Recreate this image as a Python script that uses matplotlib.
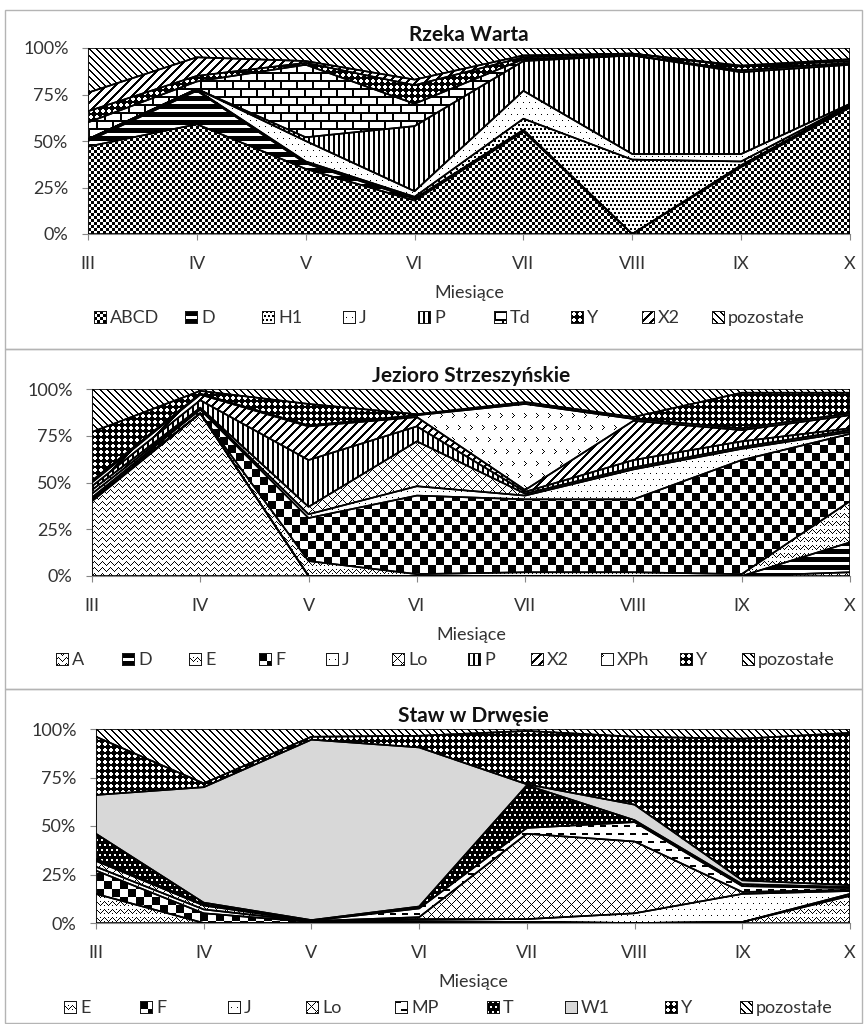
import numpy as np
import matplotlib.pyplot as plt
from matplotlib.patches import Rectangle

plt.rcParams['font.family'] = ['Lato', 'DejaVu Sans']

W, H = 867, 1024
TXT = '#333333'

months = ['III', 'IV', 'V', 'VI', 'VII', 'VIII', 'IX', 'X']

# Rzeka Warta (udział %, od dołu stosu)
warta_names = ['ABCD', 'D', 'H1', 'J', 'P', 'Td', 'Y', 'X2', 'pozostałe']
warta_ABCD = [47, 59, 35, 18, 55, 0, 36, 68]
warta_D = [3, 18, 3, 1, 1, 0, 1, 1]
warta_H1 = [0.5, 0.5, 1, 1, 6, 40, 2, 0.5]
warta_J = [0.5, 0.5, 11, 3, 15, 3, 4, 0.5]
warta_P = [0, 0, 2, 35, 16, 53, 44, 21]
warta_Td = [9, 4, 39, 12, 1, 0, 1, 1]
warta_Y = [6, 3, 1, 10, 1, 1, 2, 1]
warta_X2 = [10, 10, 1, 3, 1, 0, 0.5, 1]
warta_rest = [24, 5, 7, 17, 4, 3, 9.5, 6]

# Jezioro Strzeszyńskie
jez_names = ['A', 'D', 'E', 'F', 'J', 'Lo', 'P', 'X2', 'XPh', 'Y', 'pozostałe']
jez_A = [40, 87, 0, 0, 0, 0, 0, 2]
jez_D = [1, 0, 0, 0, 0, 0, 0, 16]
jez_E = [0, 0, 8, 1, 2, 2, 1, 22]
jez_F = [1, 2, 23, 42, 39, 39, 61, 36]
jez_J = [2, 0.5, 2, 5, 2, 16, 6, 1]
jez_Lo = [2, 0.5, 4, 24, 1, 1, 1, 1]
jez_P = [2, 4, 25, 8, 1, 4, 3, 1]
jez_X2 = [2, 3, 18, 5, 1, 21, 6, 7]
jez_XPh = [1, 0.5, 0.5, 1, 46, 1, 1, 1]
jez_Y = [26, 1.5, 11.5, 0.5, 1, 1, 19, 11]
jez_rest = [23, 1, 8, 13.5, 7, 15, 2, 2]

# Staw w Drwęsie
staw_names = ['E', 'F', 'J', 'Lo', 'MP', 'T', 'W1', 'Y', 'pozostałe']
staw_E = [15, 0, 0, 0.5, 0.5, 0, 0.5, 14]
staw_F = [12, 5, 0.5, 0.5, 0, 0, 0, 1]
staw_J = [2, 2, 0.3, 1, 1.5, 5, 14.5, 1.5]
staw_Lo = [3, 2, 0.2, 1, 44, 37, 1, 0.5]
staw_MP = [1, 0.5, 0.2, 4.5, 3, 10, 3, 1]
staw_T = [13, 1, 0.3, 1, 22, 1, 1, 0.5]
staw_W1 = [20, 59.5, 93, 82, 0.5, 8, 2, 1]
staw_Y = [30, 2, 1.5, 6, 27.5, 35, 73, 78.5]
staw_rest = [4, 28, 4, 3.5, 1, 4, 5, 2]


def mask(kind, h, w):
    yy, xx = np.indices((h, w))
    if kind == 'checker':
        return (xx // 3 + yy // 3) % 2 == 0
    if kind == 'bigchecker':
        return (xx // 8 + yy // 8) % 2 == 0
    if kind == 'hstripe':
        return yy % 8 < 5
    if kind == 'vstripe':
        return xx % 5 < 2
    if kind == 'updiag':
        return (xx + yy) % 9 < 3
    if kind == 'downdiag':
        return (xx - yy) % 7 < 2
    if kind == 'confetti':
        sh = (yy // 4 % 2) * 2
        return (yy % 4 < 2) & ((xx + sh) % 4 < 2)
    if kind == 'dots':
        sh = (yy // 6 % 2) * 3
        return (yy % 6 == 0) & ((xx + sh) % 6 == 0)
    if kind == 'bricks':
        sh = (yy // 8 % 2) * 8
        return (yy % 8 < 2) | ((xx + sh) % 16 < 2)
    if kind == 'trellis':
        a, b = xx % 6, yy % 6
        white = ((a >= 2) & (a <= 3) & (b >= 1) & (b <= 4)) | \
                ((b >= 2) & (b <= 3) & (a >= 1) & (a <= 4))
        return ~white
    if kind == 'wave':
        off = np.round(1.5 * np.sin(2 * np.pi * xx / 8)).astype(int)
        return (yy + off) % 6 == 0
    if kind == 'weave':
        z = np.abs(xx % 8 - 4)
        return ((yy + z) % 8 == 0) | ((yy - z) % 8 == 4) & (xx % 2 == 0)
    if kind == 'lattice':
        return ((xx + yy) % 10 == 0) | ((xx - yy) % 10 == 0)
    if kind == 'dashes':
        sh = (yy // 8 % 2) * 6
        return (yy % 8 < 2) & ((xx + sh) % 12 < 6)
    if kind == 'blackdots':
        sh = (yy // 5 % 2) * 2
        return ~((yy % 5 < 2) & ((xx + sh) % 5 < 2))
    if kind == 'chevron':
        r = yy % 12
        c = (xx + (yy // 12 % 2) * 6) % 12
        return (((r == 0) | (r == 4)) & (c == 0)) | (((r == 1) | (r == 3)) & (c == 1)) | \
               ((r == 2) & (c == 2))
    return np.zeros((h, w), bool)


def texture(kind, h, w):
    img = np.ones((h, w, 4))
    if kind == 'gray':
        img[..., :3] = 0.85
    else:
        img[mask(kind, h, w), :3] = 0.0
    return img


fig = plt.figure(figsize=(W / 100, H / 100), dpi=100)

# ramki trzech wykresów
for top, bot in [(10, 349), (349, 689), (689, 1023)]:
    fig.add_artist(Rectangle((5 / W, 1 - bot / H), 857 / W, (bot - top) / H,
                             transform=fig.transFigure, fill=False,
                             edgecolor='#b4b4b4', lw=1))


def panel(box, title, names, series, kinds, leg_x, leg_y):
    left, top, right, bottom = box
    ax = fig.add_axes([left / W, 1 - bottom / H, (right - left) / W, (bottom - top) / H])
    x = np.arange(len(months))
    data = np.array(series, float)
    data = data / data.sum(axis=0) * 100
    low = np.zeros(len(months))
    for vals, kind in zip(data, kinds):
        high = low + vals
        poly = ax.fill_between(x, low, high, facecolor='none', edgecolor='black',
                               lw=1.2, zorder=3)
        im = ax.imshow(texture(kind, bottom - top, right - left),
                       extent=(0, len(months) - 1, 0, 100), aspect='auto',
                       interpolation='nearest', zorder=2)
        im.set_clip_path(poly.get_paths()[0], ax.transData)
        low = high
    ax.set_xlim(0, len(months) - 1)
    ax.set_ylim(0, 100)
    ax.set_xticks(x, months)
    ax.set_yticks([0, 25, 50, 75, 100], ['0%', '25%', '50%', '75%', '100%'])
    ax.tick_params(axis='x', length=4, pad=12, color='#868686', labelsize=13,
                   labelcolor=TXT)
    ax.tick_params(axis='y', length=4, pad=10, color='#868686', labelsize=13,
                   labelcolor=TXT)
    for s in ['top', 'right']:
        ax.spines[s].set_visible(False)
    for s in ['left', 'bottom']:
        ax.spines[s].set_color('#868686')
    ax.set_title(title, fontsize=15, fontweight='bold', pad=5, color='#111111')
    ax.set_xlabel('Miesiące', fontsize=13, labelpad=9, color=TXT)

    # legenda
    for name, kind, mx in zip(names, kinds, leg_x):
        icon = texture(kind, 13, 13)
        icon[0, :, :3] = icon[-1, :, :3] = icon[:, 0, :3] = icon[:, -1, :3] = 0.1
        fig.figimage(icon, xo=mx - 6, yo=H - leg_y - 6, origin='upper', zorder=5)
        fig.text((mx + 10) / W, 1 - leg_y / H, name, fontsize=13, color=TXT,
                 ha='left', va='center')
    return ax


panel((88, 48, 850, 234), 'Rzeka Warta', warta_names,
      [warta_ABCD, warta_D, warta_H1, warta_J, warta_P, warta_Td, warta_Y,
       warta_X2, warta_rest],
      ['checker', 'hstripe', 'confetti', 'dots', 'vstripe', 'bricks', 'trellis',
       'updiag', 'downdiag'],
      [100, 191, 268, 349, 424, 500, 577, 648, 718], 318)

panel((92, 389, 850, 576), 'Jezioro Strzeszyńskie', jez_names,
      [jez_A, jez_D, jez_E, jez_F, jez_J, jez_Lo, jez_P, jez_X2, jez_XPh,
       jez_Y, jez_rest],
      ['wave', 'hstripe', 'weave', 'bigchecker', 'dots', 'lattice', 'vstripe',
       'updiag', 'chevron', 'trellis', 'downdiag'],
      [62, 128, 195, 265, 332, 398, 474, 537, 607, 686, 748], 660)

panel((96, 729, 850, 923), 'Staw w Drwęsie', staw_names,
      [staw_E, staw_F, staw_J, staw_Lo, staw_MP, staw_T, staw_W1, staw_Y,
       staw_rest],
      ['weave', 'bigchecker', 'dots', 'lattice', 'dashes', 'blackdots', 'gray',
       'trellis', 'downdiag'],
      [70, 146, 234, 312, 401, 493, 571, 671, 746], 1008)

fig.savefig('out.png', dpi=100, facecolor='white')
